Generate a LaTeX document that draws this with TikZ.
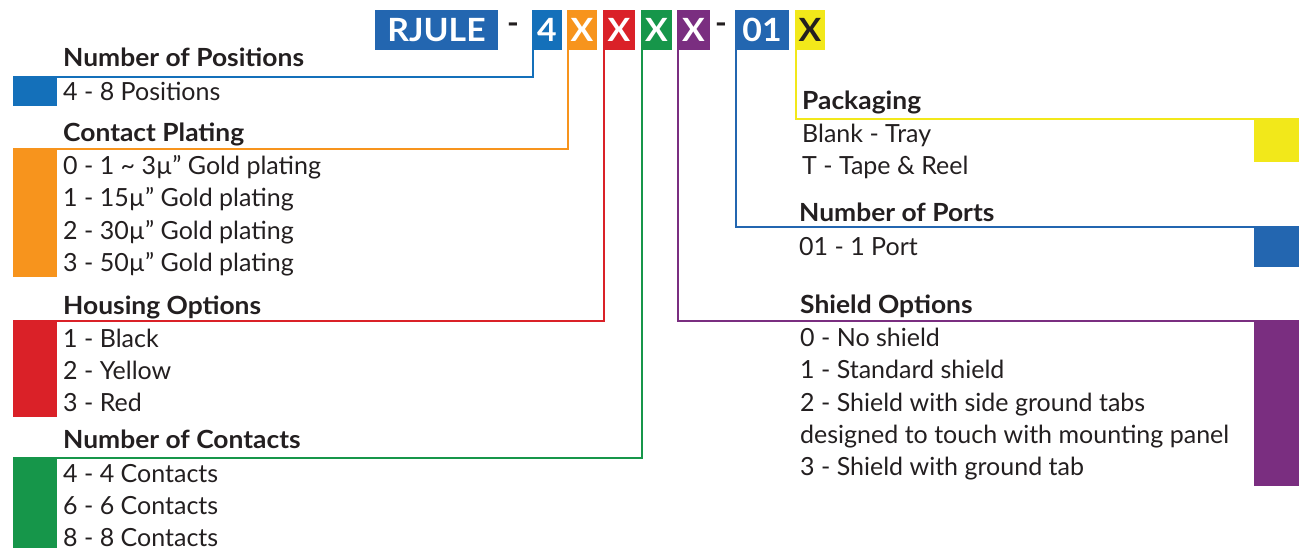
\documentclass[tikz,border=0pt]{standalone}
\usepackage{fontspec}
\setmainfont{Lato}[BoldFeatures={FakeStretch=1.055}]
\definecolor{cblueA}{HTML}{1470BA}
\definecolor{cblueB}{HTML}{2366B0}
\definecolor{corange}{HTML}{F7941D}
\definecolor{cred}{HTML}{DA2128}
\definecolor{cgreen}{HTML}{16964A}
\definecolor{cpurple}{HTML}{7A2E80}
\definecolor{cyellow}{HTML}{F2E81A}
\definecolor{ctext}{HTML}{231F20}
\tikzset{
  hbox/.style={rectangle, inner sep=0pt, text=white, font=\fontsize{32}{32}\selectfont\bfseries, minimum height=40pt},
  sq/.style={rectangle, inner sep=0pt, anchor=north west},
  txt/.style={anchor=base west, inner sep=0pt, text=ctext, font=\fontsize{25}{25}\selectfont},
  hd/.style={anchor=base west, inner sep=0pt, text=ctext, font=\fontsize{25}{25}\selectfont\bfseries},
  conn/.style={line width=2pt},
}
\begin{document}
\begin{tikzpicture}[x=1pt,y=-1pt]
\useasboundingbox (0,0) rectangle (1299,548);
% header
\node[hbox, fill=cblueB, minimum width=123pt] (rj) at (436.5,30) {RJULE};
\node[inner sep=0pt, text=ctext, font=\fontsize{30}{30}\selectfont\bfseries] (d1) at (513,28) {-};
\node[hbox, fill=cblueA, minimum width=30pt] (b4) at (547,30) {4};
\node[hbox, fill=corange, minimum width=30pt] (bo) at (582,30) {X};
\node[hbox, fill=cred, minimum width=32pt] (br) at (619,30) {X};
\node[hbox, fill=cgreen, minimum width=31pt] (bg) at (656.5,30) {X};
\node[hbox, fill=cpurple, minimum width=33pt] (bp) at (693.5,30) {X};
\node[inner sep=0pt, text=ctext, font=\fontsize{30}{30}\selectfont\bfseries] (d2) at (721,28) {-};
\node[hbox, fill=cblueB, minimum width=54pt] (b01) at (762,30) {01};
\node[hbox, fill=cyellow, minimum width=30pt, text=ctext] (by) at (810,30) {X};
% left squares
\node[sq, fill=cblueA, minimum width=44pt, minimum height=30pt] (s1) at (13,76) {};
\node[sq, fill=corange, minimum width=44pt, minimum height=129pt] (s2) at (13,148) {};
\node[sq, fill=cred, minimum width=44pt, minimum height=97pt] (s3) at (13,320) {};
\node[sq, fill=cgreen, minimum width=44pt, minimum height=91pt] (s4) at (13,457) {};
% right squares
\node[sq, fill=cyellow, minimum width=45pt, minimum height=44pt] (s5) at (1254,118) {};
\node[sq, fill=cblueB, minimum width=45pt, minimum height=41pt] (s6) at (1254,226) {};
\node[sq, fill=cpurple, minimum width=45pt, minimum height=166pt] (s7) at (1254,320) {};
% connectors
\coordinate (c1) at ([yshift=-1pt]s1.north east);
\coordinate (c2) at ([yshift=-1pt]s2.north east);
\coordinate (c3) at ([yshift=-1pt]s3.north east);
\coordinate (c4) at ([yshift=-1pt]s4.north east);
\coordinate (c5) at ([yshift=-1pt]s5.north east);
\coordinate (c6) at ([yshift=-1pt]s6.north west);
\coordinate (c7) at ([yshift=-1pt]s7.north west);
\draw[conn, cblueA] ([xshift=1pt]b4.south west) |- (c1);
\draw[conn, corange] ([xshift=1pt]bo.south west) |- (c2);
\draw[conn, cred] ([xshift=1pt]br.south west) |- (c3);
\draw[conn, cgreen] ([xshift=1pt]bg.south west) |- (c4);
\draw[conn, cpurple] ([xshift=1pt]bp.south west) |- (c7);
\draw[conn, cblueB] ([xshift=1pt]b01.south west) |- (c6);
\draw[conn, cyellow] ([xshift=1pt]by.south west) |- (c5);
% left texts
\node[hd] (h1) at (63,67) {Number of Positions};
\node[txt] (t11) at (63,101) {4 - 8 Positions};
\node[hd] (h2) at (63,142) {Contact Plating};
\node[txt] (t21) at (63,175) {0 - 1 \textasciitilde\ 3µ” Gold plating};
\node[txt] (t22) at (63,207) {1 - 15µ” Gold plating};
\node[txt] (t23) at (63,240) {2 - 30µ” Gold plating};
\node[txt] (t24) at (63,272) {3 - 50µ” Gold plating};
\node[hd] (h3) at (63,314) {Housing Options};
\node[txt] (t31) at (63,347) {1 - Black};
\node[txt] (t32) at (63,379) {2 - Yellow};
\node[txt] (t33) at (63,411) {3 - Red};
\node[hd] (h4) at (63,448) {Number of Contacts};
\node[txt] (t41) at (63,482) {4 - 4 Contacts};
\node[txt] (t42) at (63,514) {6 - 6 Contacts};
\node[txt] (t43) at (63,546) {8 - 8 Contacts};
% right texts
\node[hd] (h5) at (802,110) {Packaging};
\node[txt] (t51) at (802,143) {Blank - Tray};
\node[txt] (t52) at (802,175) {T - Tape \& Reel};
\node[hd] (h6) at (799,222) {Number of Ports};
\node[txt] (t61) at (799,255) {01 - 1 Port};
\node[hd] (h7) at (800,313) {Shield Options};
\node[txt] (t71) at (800,346) {0 - No shield};
\node[txt] (t72) at (800,378) {1 - Standard shield};
\node[txt] (t73) at (800,411) {2 - Shield with side ground tabs};
\node[txt] (t74) at (800,443) {designed to touch with mounting panel};
\node[txt] (t75) at (800,475) {3 - Shield with ground tab};
\end{tikzpicture}
\end{document}
